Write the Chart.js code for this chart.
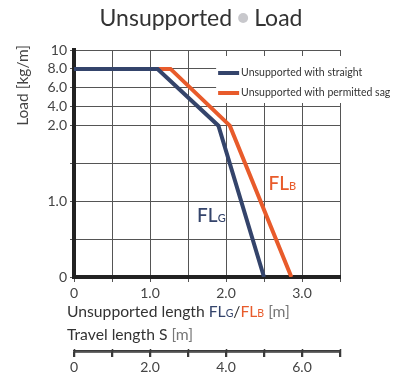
<!DOCTYPE html>
<html>
<head>
<meta charset="utf-8">
<script src="https://cdn.jsdelivr.net/npm/chart.js@4.4.1/dist/chart.umd.min.js"></script>
<style>
html, body { margin: 0; padding: 0; background: #fff; }
#wrap { width: 411px; height: 376px; position: relative; }
</style>
</head>
<body>
<div id="wrap"><canvas id="loadChart"></canvas></div>
<script>
// values (length in m, load in kg/m)
var straightLength = [0, 1.1, 1.9, 2.5];
var straightLoad   = [8.0, 8.0, 2.0, 0];
var sagLength      = [0, 1.27, 2.05, 2.86];
var sagLoad        = [8.0, 8.0, 2.0, 0];

var seriesNames = ["Unsupported with straight", "Unsupported with permitted sag"];

var loadTickValues   = [0, 0.5, 1.0, 1.5, 2.0, 4.0, 6.0, 8.0, 10];
var loadTickLabels   = ["0", "", "1.0", "", "2.0", "4.0", "6.0", "8.0", "10"];
var lengthTickValues = [0, 0.5, 1, 1.5, 2, 2.5, 3, 3.5];
var lengthTickLabels = ["0", "", "1.0", "", "2.0", "", "3.0", ""];
var travelTickValues = [0, 1, 2, 3, 4, 5, 6, 7];
var travelTickLabels = ["0", "", "2.0", "", "4.0", "", "6.0", ""];

var navy = "#34446b";
var orange = "#e85b2b";
var axisGrey = "#3a3a3a";
var fontName = "Lato";

// load axis is stretched below 2.0 and squeezed above it
function loadToAxis(v)
{
  if (v <= 2) return v;
  return 2 + (v - 2) / 8;
}

function toPoints(xs, ys)
{
  return xs.map(function(x, i) { return { x: x, y: loadToAxis(ys[i]) }; });
}

function setTicks(values)
{
  return function(scale) {
    scale.ticks = values.map(function(v) { return { value: v }; });
  };
}

// draws a run of differently styled text pieces, returns end x
function drawParts(ctx, x, y, parts)
{
  parts.forEach(function(p) {
    ctx.font = p.font;
    ctx.fillStyle = p.color;
    ctx.fillText(p.text, x, y);
    x += ctx.measureText(p.text).width;
  });
  return x;
}

var textPlugin = {
  id: "textPlugin",
  afterDraw: function(chart)
  {
    var ctx = chart.ctx;
    var area = chart.chartArea;
    var xs = chart.scales.x;
    var ys = chart.scales.y;
    var ts = chart.scales.x2;
    ctx.save();
    ctx.textBaseline = "alphabetic";
    ctx.textAlign = "left";

    // travel length axis line and tick marks
    ctx.strokeStyle = axisGrey;
    ctx.lineWidth = 1.5;
    ctx.beginPath();
    ctx.moveTo(ts.left, ts.top + 1);
    ctx.lineTo(ts.right, ts.top + 1);
    travelTickValues.forEach(function(v) {
      var px = Math.round(ts.getPixelForValue(v)) + 0.5;
      ctx.moveTo(px, ts.top - 2);
      ctx.lineTo(px, ts.top + 6);
    });
    ctx.stroke();

    // title
    ctx.font = "23px " + fontName;
    var w1 = ctx.measureText("Unsupported").width;
    var w2 = ctx.measureText("Load").width;
    var gap = 6, dotR = 5;
    var total = w1 + gap * 2 + dotR * 2 + w2;
    var tx = 201 - total / 2, ty = 26;
    ctx.fillStyle = "#333";
    ctx.fillText("Unsupported", tx, ty);
    ctx.fillStyle = "#c8c8cc";
    ctx.beginPath();
    ctx.arc(tx + w1 + gap + dotR, ty - 8, dotR, 0, Math.PI * 2);
    ctx.fill();
    ctx.fillStyle = "#333";
    ctx.fillText("Load", tx + w1 + gap * 2 + dotR * 2, ty);

    // y title
    ctx.save();
    ctx.translate(23, area.top - 5);
    ctx.rotate(-Math.PI / 2);
    ctx.textAlign = "right";
    ctx.textBaseline = "middle";
    ctx.font = "15.5px " + fontName;
    ctx.fillStyle = "#444";
    ctx.fillText("Load [kg/m]", 0, 0);
    ctx.restore();

    // x titles
    var big = "15.7px " + fontName;
    var small = "10.5px " + fontName;
    drawParts(ctx, area.left - 7, area.bottom + 40, [
      { text: "Unsupported length ", font: big, color: "#333" },
      { text: "FL", font: big, color: navy },
      { text: "G", font: small, color: navy },
      { text: "/", font: big, color: "#333" },
      { text: "FL", font: big, color: orange },
      { text: "B", font: small, color: orange },
      { text: " [m]", font: big, color: "#777" }
    ]);
    drawParts(ctx, area.left - 7, area.bottom + 63, [
      { text: "Travel length S ", font: big, color: "#333" },
      { text: "[m]", font: big, color: "#777" }
    ]);

    // in-plot labels
    var flBig = "500 19px " + fontName;
    var flSmall = "500 11px " + fontName;
    drawParts(ctx, xs.getPixelForValue(1.62), ys.getPixelForValue(0.73), [
      { text: "FL", font: flBig, color: navy },
      { text: "G", font: flSmall, color: navy }
    ]);
    drawParts(ctx, xs.getPixelForValue(2.56), ys.getPixelForValue(1.15), [
      { text: "FL", font: flBig, color: orange },
      { text: "B", font: flSmall, color: orange }
    ]);

    // legend
    var lx = xs.getPixelForValue(1.87);
    var ly = area.top + 6;
    ctx.fillStyle = "#fff";
    ctx.fillRect(lx, ly, area.right + 6 - lx, 47);
    var colors = [navy, orange];
    ctx.font = "10.5px " + fontName;
    ctx.textBaseline = "middle";
    seriesNames.forEach(function(name, i) {
      var yy = ly + 17 + i * 20;
      ctx.strokeStyle = colors[i];
      ctx.lineWidth = 4;
      ctx.beginPath();
      ctx.moveTo(lx + 2, yy);
      ctx.lineTo(lx + 23, yy);
      ctx.stroke();
      ctx.fillStyle = "#333";
      ctx.fillText(name, lx + 25, yy);
    });
    ctx.restore();
  }
};

var ctx = document.getElementById("loadChart");
var loadChart = new Chart(ctx, {
  type: "line",
  data: {
    datasets: [
      {
        label: seriesNames[0],
        data: toPoints(straightLength, straightLoad),
        borderColor: navy,
        borderWidth: 4,
        pointRadius: 0,
        fill: false,
        tension: 0
      },
      {
        label: seriesNames[1],
        data: toPoints(sagLength, sagLoad),
        borderColor: orange,
        borderWidth: 4,
        pointRadius: 0,
        fill: false,
        tension: 0
      }
    ]
  },
  options: {
    responsive: true,
    maintainAspectRatio: false,
    animation: false,
    layout: { padding: { top: 50, right: 71, left: 0, bottom: 0 } },
    plugins: {
      legend: { display: false },
      title: { display: false },
      tooltip: { enabled: false }
    },
    scales: {
      x: {
        type: "linear",
        position: "bottom",
        weight: 0,
        min: 0, max: 3.5,
        afterBuildTicks: setTicks(lengthTickValues),
        afterFit: function(scale) { scale.height = 74; },
        grid: { color: "#555", lineWidth: 1, tickLength: 5 },
        border: { color: "#222", width: 4 },
        ticks: {
          autoSkip: false, maxRotation: 0, padding: 3,
          color: "#444", font: { family: fontName, size: 14 },
          callback: function(v, i) { return lengthTickLabels[i]; }
        }
      },
      x2: {
        type: "linear",
        position: "bottom",
        weight: 1,
        min: 0, max: 7,
        afterBuildTicks: setTicks(travelTickValues),
        afterFit: function(scale) { scale.height = 25; },
        grid: { drawOnChartArea: false, color: axisGrey, lineWidth: 1.5, tickLength: 6 },
        border: { color: axisGrey, width: 1.5 },
        ticks: {
          autoSkip: false, maxRotation: 0, padding: 2,
          color: "#444", font: { family: fontName, size: 14 },
          callback: function(v, i) { return travelTickLabels[i]; }
        }
      },
      y: {
        type: "linear",
        position: "left",
        min: 0, max: 3,
        afterBuildTicks: setTicks(loadTickValues.map(loadToAxis)),
        afterFit: function(scale) { scale.width = 74; },
        grid: { color: "#555", lineWidth: 1, tickLength: 4 },
        border: { color: "#222", width: 4 },
        ticks: {
          autoSkip: false, padding: 3,
          color: "#444", font: { family: fontName, size: 14 },
          callback: function(v, i) { return loadTickLabels[i]; }
        }
      }
    }
  },
  plugins: [textPlugin]
});
</script>
</body>
</html>
